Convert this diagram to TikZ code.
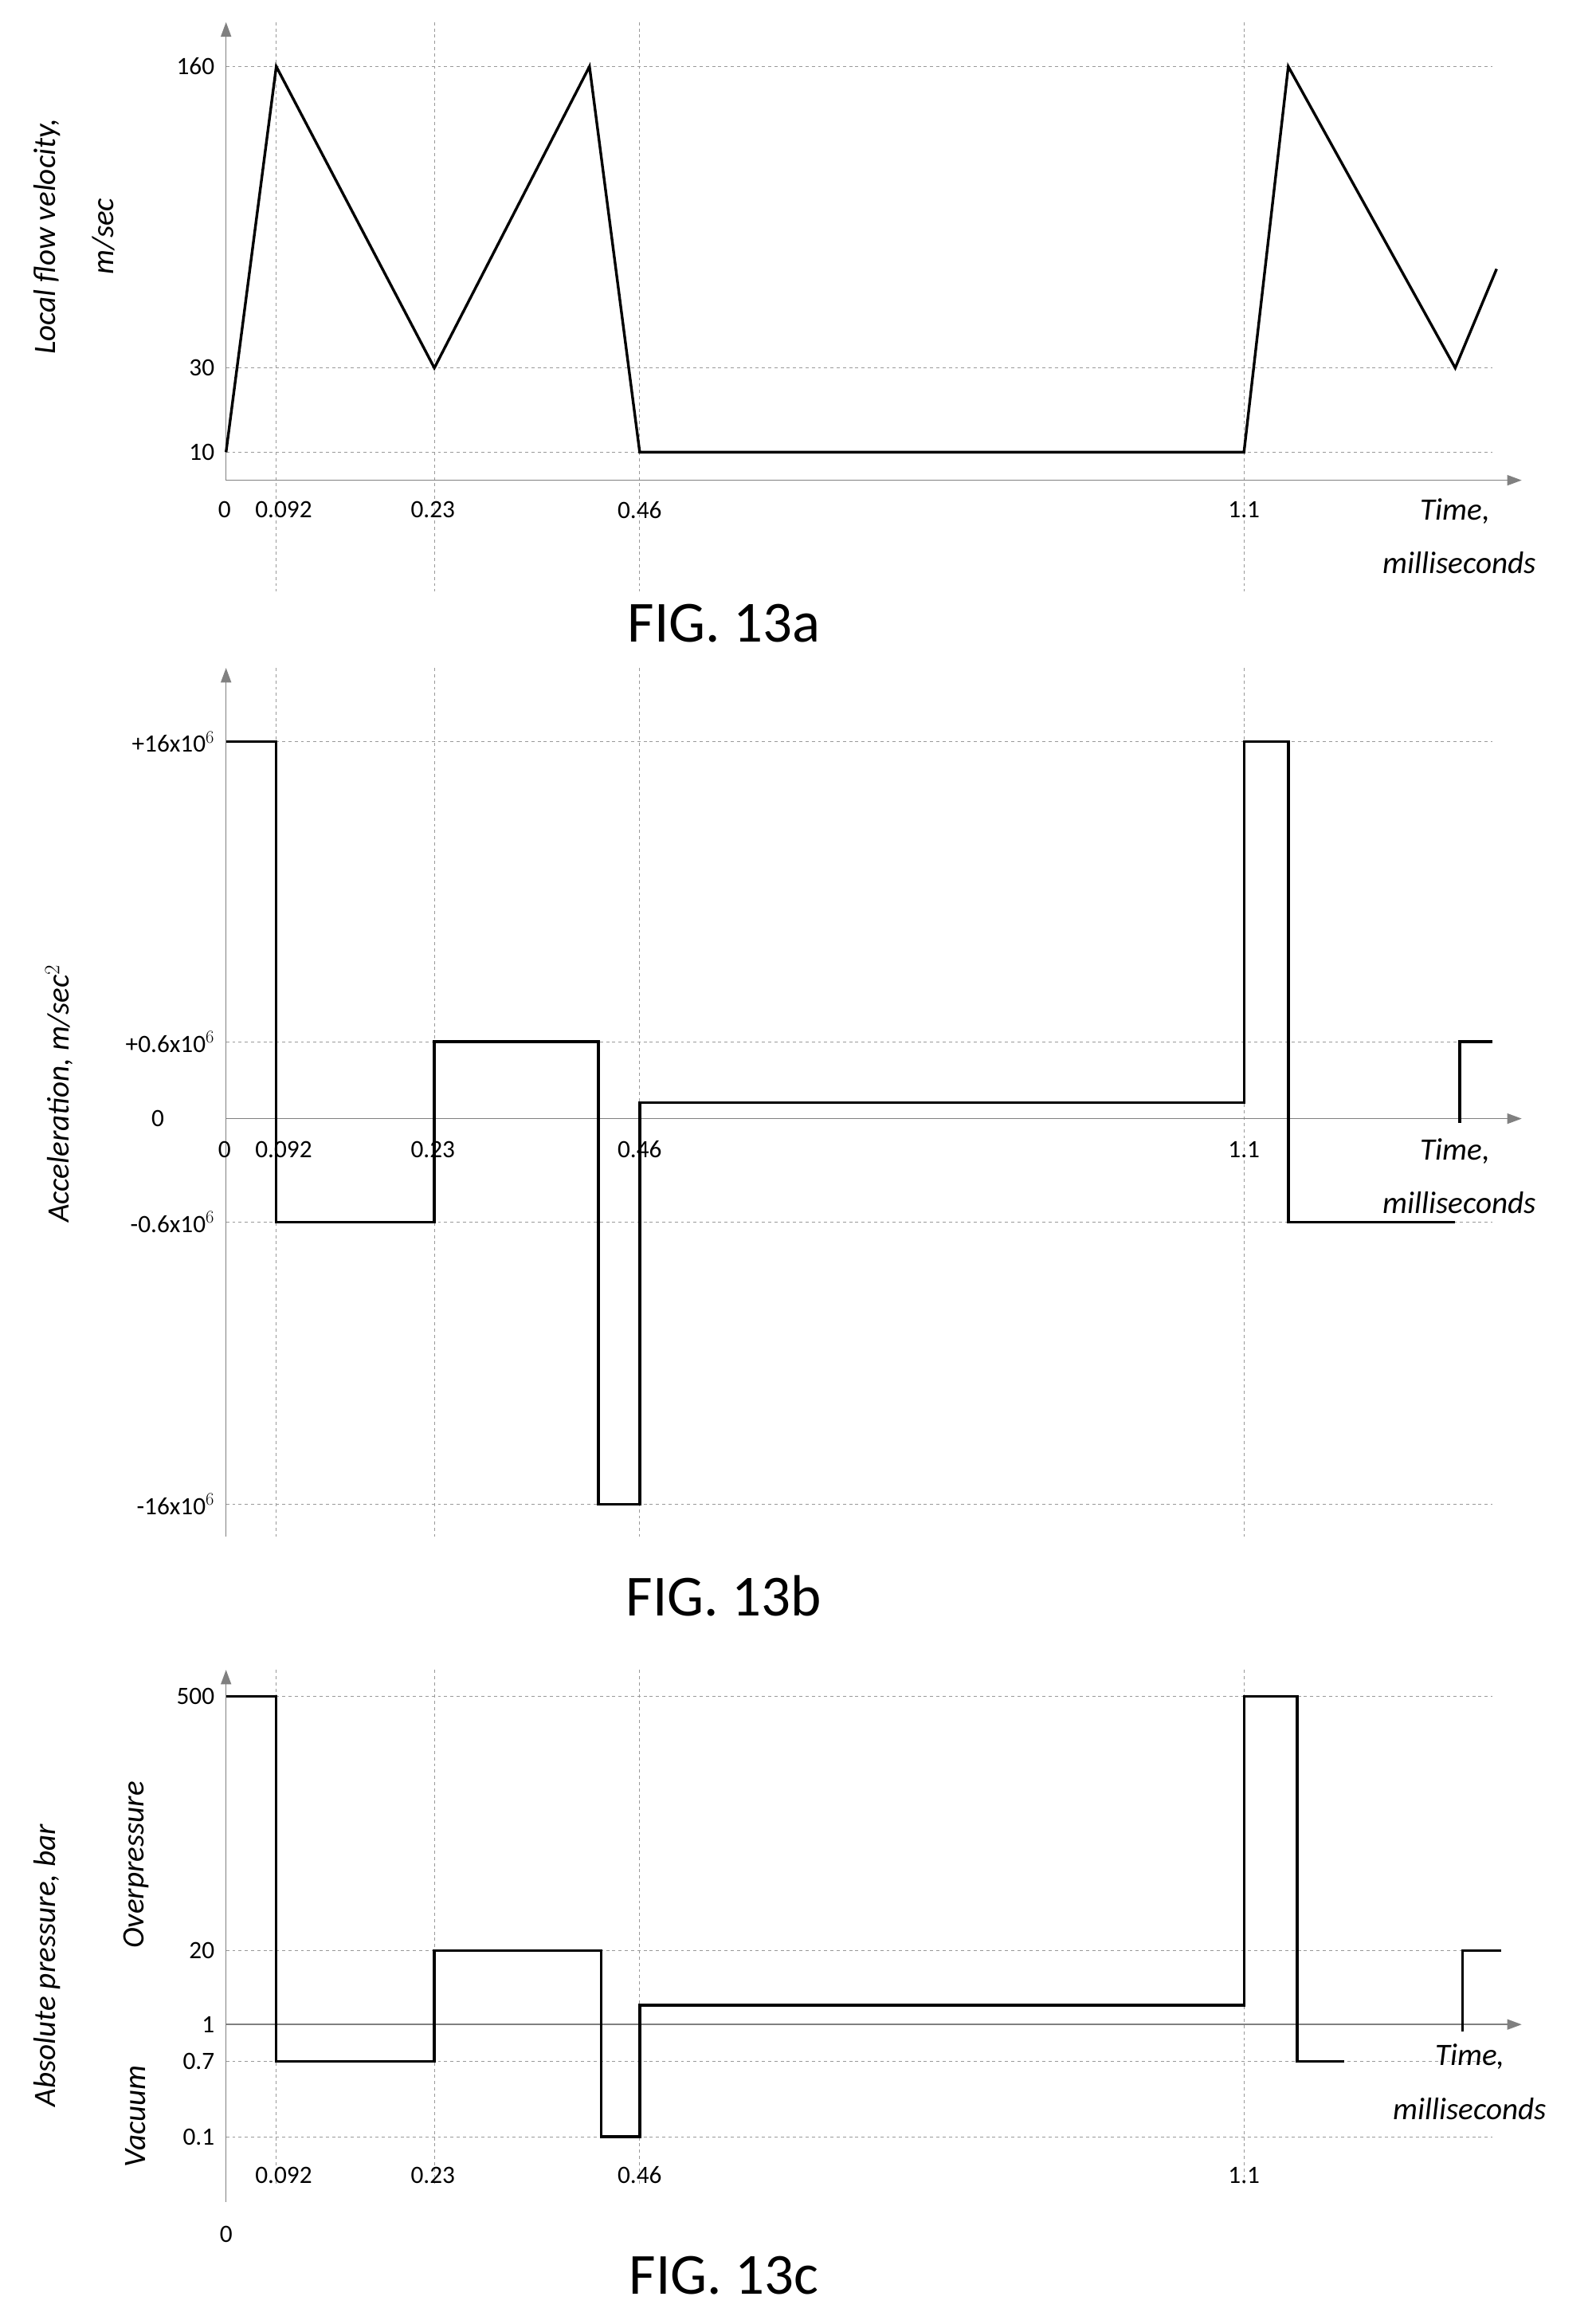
\documentclass[tikz,border=0pt]{standalone}
\usepackage{fontspec}
\setmainfont{Carlito}
\usetikzlibrary{arrows.meta}

\begin{document}
\begin{tikzpicture}[
		x=0.05cm, y=-0.05cm,
		axis/.style = {draw=gray, line width=1.2pt, -{Triangle[length=14pt, width=10pt]}},
		grid/.style = {draw=gray!80, dashed, line width=0.8pt},
		curve/.style = {draw=black, line width=2.6pt},
		tick/.style = {font=\fontsize{24}{28}\selectfont, inner sep=1pt},
		lab/.style = {font=\fontsize{30}{34}\selectfont\itshape, inner sep=1pt},
		fig/.style = {font=\fontsize{56}{60}\selectfont}
	]
	\useasboundingbox (0,0) rectangle (1080,1570);

	% FIG. 13a
	\foreach \x in {187,294,433,842} \draw[grid] (\x,15) -- (\x,400);
	\foreach \y in {45,249,306} \draw[grid] (153,\y) -- (1010,\y);
	\draw[axis] (153,325) -- (153,15);
	\draw[axis] (153,325) -- (1030,325);
	\node[tick, anchor=east] at (146,45) {160};
	\node[tick, anchor=east] at (146,249) {30};
	\node[tick, anchor=east] at (146,306) {10};
	\foreach \x/\t in {152/0,192/0.092,293/0.23,433/0.46,842/1.1} \node[tick] at (\x,345) {\t};
	\node[lab] at (985,346) {Time,};
	\node[lab] at (988,381) {milliseconds};
	\node[lab, rotate=90] at (32,160) {Local flow velocity,};
	\node[lab, rotate=90] at (70,160) {m/sec};
	\draw[curve] (153,306) -- (187,45) -- (294,249) -- (399,45) -- (433,306) -- (842,306) -- (872,45) -- (985,249) -- (1013,182);
	\node[fig] at (490,422) {FIG. 13a};

	% FIG. 13b
	\foreach \x in {187,294,433,842} \draw[grid] (\x,452) -- (\x,1040);
	\foreach \y in {502,705,827,1018} \draw[grid] (153,\y) -- (1010,\y);
	\draw[axis] (153,1040) -- (153,452);
	\draw[axis] (153,757) -- (1030,757);
	\node[tick, anchor=east] at (146,502) {+16x10$^6$};
	\node[tick, anchor=east] at (146,705) {+0.6x10$^6$};
	\node[tick, anchor=east] at (112,757) {0};
	\node[tick, anchor=east] at (146,827) {-0.6x10$^6$};
	\node[tick, anchor=east] at (146,1018) {-16x10$^6$};
	\foreach \x/\t in {152/0,192/0.092,293/0.23,433/0.46,842/1.1} \node[tick] at (\x,778) {\t};
	\node[lab] at (985,779) {Time,};
	\node[lab] at (988,814) {milliseconds};
	\node[lab, rotate=90] at (40,740) {Acceleration, m/sec$^2$};
	\draw[curve] (153,502) -- (187,502) -- (187,827) -- (294,827) -- (294,705) -- (405,705) -- (405,1018) -- (433,1018) -- (433,746) -- (842,746) -- (842,502) -- (872,502) -- (872,827) -- (985,827);
	\draw[curve] (988,760) -- (988,705) -- (1010,705);
	\node[fig] at (490,1080) {FIG. 13b};

	% FIG. 13c
	\foreach \x in {187,294,433,842} \draw[grid] (\x,1130) -- (\x,1480);
	\foreach \y in {1148,1320,1395,1446} \draw[grid] (153,\y) -- (1010,\y);
	\draw[axis] (153,1490) -- (153,1130);
	\draw[axis] (153,1370) -- (1030,1370);
	\node[tick, anchor=east] at (146,1148) {500};
	\node[tick, anchor=east] at (146,1320) {20};
	\node[tick, anchor=east] at (146,1370) {1};
	\node[tick, anchor=east] at (146,1395) {0.7};
	\node[tick, anchor=east] at (146,1446) {0.1};
	\node[tick] at (153,1512) {0};
	\foreach \x/\t in {192/0.092,293/0.23,433/0.46,842/1.1} \node[tick] at (\x,1472) {\t};
	\node[lab] at (995,1392) {Time,};
	\node[lab] at (995,1427) {milliseconds};
	\node[lab, rotate=90] at (32,1330) {Absolute pressure, bar};
	\node[lab, rotate=90] at (92,1262) {Overpressure};
	\node[lab, rotate=90] at (92,1432) {Vacuum};
	\draw[curve] (153,1148) -- (187,1148) -- (187,1395) -- (294,1395) -- (294,1320) -- (407,1320) -- (407,1446) -- (433,1446) -- (433,1357) -- (842,1357) -- (842,1148) -- (878,1148) -- (878,1395) -- (910,1395);
	\draw[curve] (990,1375) -- (990,1320) -- (1016,1320);
	\node[fig] at (490,1540) {FIG. 13c};
\end{tikzpicture}
\end{document}
